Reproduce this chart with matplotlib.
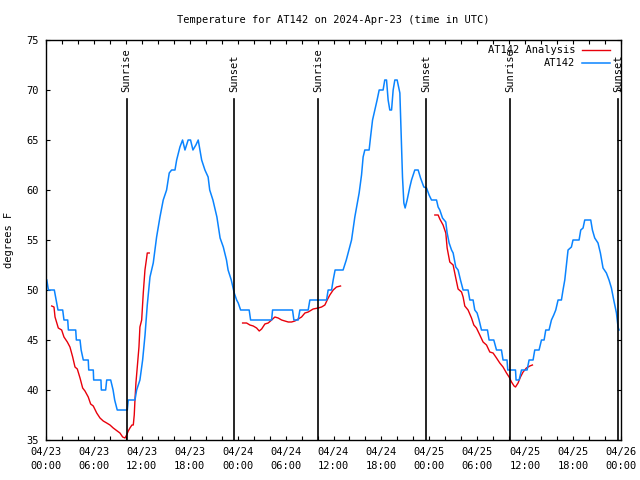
import numpy as np
import matplotlib
matplotlib.use("Agg")
import matplotlib.pyplot as plt

plt.rcParams['font.family'] = ['DejaVu Sans Mono']
plt.rcParams['font.size'] = 7.5

# hours since 2024-04-23 00:00 UTC
blue_hours = [0.1, 0.3, 1.04, 1.5, 2.09, 2.25, 2.72, 2.8, 3.72, 3.8, 4.26, 4.4, 4.67, 5.29, 5.35,
              5.92, 5.97, 6.88, 6.93, 7.47, 7.6, 8.1, 8.4, 8.6, 8.92, 10.18, 10.3, 11.14, 11.35,
              11.76, 12.1, 12.4, 12.68, 13.02, 13.43, 13.85, 14.27, 14.68, 15.1, 15.43, 15.73,
              16.15, 16.36, 16.77, 17.1, 17.4, 17.8, 18.1, 18.4, 18.77, 19.06, 19.27, 19.49, 19.9,
              20.3, 20.5, 20.9, 21.4, 21.8, 22.2, 22.6, 22.8, 23.2, 23.57, 23.87, 24.07, 24.37,
              25.44, 25.62, 28.25, 28.37, 30.87, 31.04, 31.58, 31.79, 32.83, 33.04, 35.13, 35.33,
              35.76, 35.96, 36.2, 37.2, 37.6, 38.26, 38.67, 38.89, 39.21, 39.51, 39.71, 39.92,
              40.46, 40.64, 40.89, 41.18, 41.46, 41.72, 42.21, 42.42, 42.64, 42.84, 43.05, 43.27,
              43.47, 43.68, 43.97, 44.31, 44.52, 44.64, 44.81, 44.97, 45.22, 45.56, 45.77, 46.18,
              46.6, 46.9, 47.31, 47.65, 47.97, 48.27, 48.9, 49.1, 49.31, 49.65, 50.06, 50.23,
              50.48, 50.78, 50.98, 51.31, 51.6, 51.9, 52.23, 52.85, 53.07, 53.48, 53.69, 53.98,
              54.23, 54.53, 55.28, 55.48, 56.07, 56.41, 57.03, 57.23, 57.73, 57.82, 58.79, 58.86,
              59.24, 59.54, 60.24, 60.49, 60.99, 61.2, 61.74, 62.04, 62.37, 62.58, 62.99, 63.29,
              63.58, 63.83, 64.12, 64.54, 64.74, 64.96, 65.37, 65.79, 65.99, 66.75, 66.96, 67.25,
              67.46, 68.21, 68.42, 68.71, 69.12, 69.42, 69.75, 70.17, 70.5, 70.8, 71.09, 71.43,
              71.63, 71.75]
blue_temps = [51, 50, 50, 48, 48, 47, 47, 46, 46, 45, 45, 44, 43, 43, 42,
              42, 41, 41, 40, 40, 41, 41, 40, 39, 38, 38, 39, 39, 40,
              41, 43, 45.5, 48.5, 51.3, 52.7, 55.3, 57.3, 59, 60, 61.7, 62,
              62, 63, 64.3, 65, 64, 65, 65, 64, 64.5, 65, 64, 63, 62,
              61.3, 60, 59, 57.3, 55.2, 54.3, 53, 52, 51, 49.7, 49, 48.7, 48,
              48, 47, 47, 48, 48, 47, 47, 48, 48, 49, 49, 50,
              50, 51, 52, 52, 53, 55, 57.3, 58.3, 59.7, 61.5, 63.3, 64,
              64, 65.3, 67, 68, 69, 70, 70, 71, 71, 69, 68, 68,
              70, 71, 71, 69.7, 64.3, 61.3, 58.7, 58.2, 59, 60.3, 61, 62,
              62, 61.2, 60.3, 60.2, 59.5, 59, 59, 58.3, 58, 57.2, 56.8, 55.7,
              54.7, 54, 53.7, 52.3, 52, 51, 50, 50, 49, 49, 48, 47.7,
              47, 46, 46, 45, 45, 44, 44, 43, 43, 42, 42, 41,
              41, 42, 42, 43, 43, 44, 44, 45, 45, 46, 46, 47,
              47.5, 48, 49, 49, 50, 51, 54, 54.3, 55, 55, 56, 56.2,
              57, 57, 56, 55.2, 54.7, 53.7, 52.2, 51.7, 51, 50.2, 49, 47.7,
              46.3, 46]

red_hours = [0.71, 1.0, 1.13, 1.54, 1.96, 2.25, 2.67, 3.0, 3.34, 3.63, 3.92, 4.26, 4.59, 4.88,
             5.29, 5.59, 5.92, 6.35, 6.76, 7.17, 7.6, 8.01, 8.42, 8.92, 9.26, 9.6, 9.89, 10.1,
             10.3, 10.51, 10.76, 10.93, 11.05, 11.14, 11.26, 11.43, 11.64, 11.76, 11.98, 12.18,
             12.39, 12.6, 12.68, 12.93, np.nan,
             24.62, 25.12, 25.53, 25.95, 26.37, 26.7, 27.0, 27.41, 27.82, 28.25, 28.66, 29.07,
             29.5, 29.91, 30.33, 30.75, 31.16, 31.58, 32.0, 32.42, 32.83, 33.45, 34.08, 34.51,
             34.92, 35.21, 35.54, 35.96, 36.38, 36.88, np.nan,
             48.69, 49.1, 49.31, 49.72, 50.06, 50.23, 50.56, 50.98, 51.31, 51.6, 52.03, 52.23,
             52.44, 52.85, 53.28, 53.57, 53.9, 54.32, 54.73, 55.16, 55.57, 55.98, 56.41, 56.82,
             57.23, 57.66, 57.99, 58.29, 58.61, 58.79, 59.11, 59.41, 59.74, 60.16, 60.58, 60.91]
red_temps = [48.4, 48.3, 47.3, 46.2, 46, 45.3, 44.8, 44.3, 43.3, 42.3, 42.1, 41.2, 40.2, 39.9,
             39.3, 38.6, 38.4, 37.7, 37.2, 36.9, 36.7, 36.5, 36.2, 35.9, 35.7, 35.3, 35.2, 35.5,
             35.9, 36.2, 36.5, 36.5, 37.5, 39, 40.7, 42.3, 44.3, 46.3, 47, 49.7,
             52, 53.2, 53.7, 53.7, np.nan,
             46.7, 46.7, 46.5, 46.4, 46.2, 45.9, 46.1, 46.6, 46.7, 47, 47.3, 47.2,
             47, 46.9, 46.8, 46.8, 46.9, 47.1, 47.3, 47.7, 47.8, 48.1, 48.2, 48.3,
             48.5, 49, 49.5, 50, 50.3, 50.4, np.nan,
             57.5, 57.5, 57.1, 56.5, 55.7, 54.2, 52.8, 52.5, 51.2, 50.1, 49.8, 49.3,
             48.4, 48, 47.2, 46.5, 46.2, 45.5, 44.8, 44.5, 43.8, 43.7, 43.2, 42.7,
             42.3, 41.7, 41.3, 40.8, 40.4, 40.3, 40.7, 41.3, 41.8, 42.2, 42.4, 42.5]

sun_hours = [10.1, 23.6, 34.1, 47.6, 58.1, 71.65]
sun_labels = ["Sunrise", "Sunset", "Sunrise", "Sunset", "Sunrise", "Sunset"]

tick_hours = list(range(0, 73, 6))
tick_labels = ["04/23\n00:00", "04/23\n06:00", "04/23\n12:00", "04/23\n18:00",
               "04/24\n00:00", "04/24\n06:00", "04/24\n12:00", "04/24\n18:00",
               "04/25\n00:00", "04/25\n06:00", "04/25\n12:00", "04/25\n18:00",
               "04/26\n00:00"]

fig = plt.figure(figsize=(6.4, 4.8), dpi=100)
ax = fig.add_axes([46 / 640, 40 / 480, 575 / 640, 400 / 480])

ax.plot(red_hours, red_temps, color='#e8000b', lw=1.0, label='AT142 Analysis')
ax.plot(blue_hours, blue_temps, color='#0a84ff', lw=1.1, label='AT142')

for h, lab in zip(sun_hours, sun_labels):
    ax.plot([h, h], [35, 69.1], color='black', lw=1.2)
    ax.text(h, 69.8, lab, rotation=90, ha='center', va='bottom', clip_on=False)

ax.set_xlim(0, 72)
ax.set_ylim(35, 75)
ax.set_xticks(tick_hours)
ax.set_xticklabels(tick_labels, linespacing=1.55)
ax.set_xticks(range(0, 73, 2), minor=True)
ax.set_yticks(range(35, 76, 5))
ax.tick_params(which='both', direction='in', length=3, top=True, right=True, width=0.8)
ax.tick_params(axis='x', pad=5)
ax.tick_params(axis='y', pad=5)
for s in ax.spines.values():
    s.set_linewidth(1.0)

ax.set_title("Temperature for AT142 on 2024-Apr-23 (time in UTC)", fontsize=7.5, pad=12)
ax.set_ylabel("degrees F", labelpad=9)

ax.legend(loc='upper right', bbox_to_anchor=(1 - 4 / 575, 1 + 2 / 400), frameon=False,
          markerfirst=False, handlelength=2.7, handletextpad=0.6, labelspacing=0.3,
          borderaxespad=0.3, fontsize=7.5)

fig.savefig("out.png", dpi=100)
